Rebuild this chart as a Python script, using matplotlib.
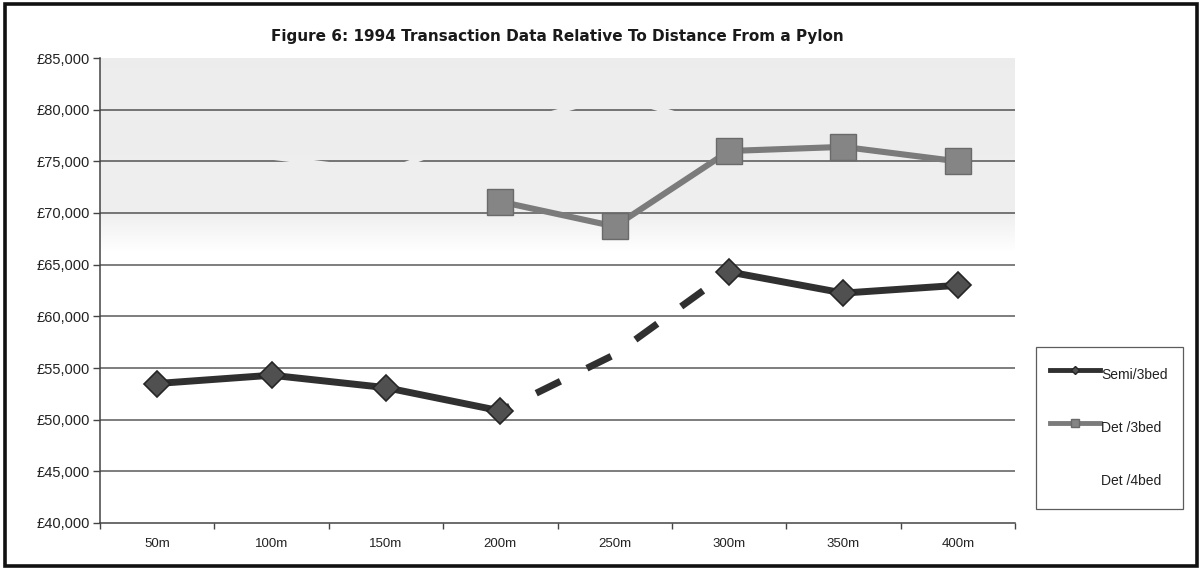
import numpy as np
import matplotlib
matplotlib.use("Agg")
import matplotlib.pyplot as plt
from matplotlib.lines import Line2D
from matplotlib.patches import Rectangle

plt.rcParams['font.family'] = ['Liberation Sans', 'DejaVu Sans']

# ---- data -------------------------------------------------------------
distances = ['50m', '100m', '150m', '200m', '250m', '300m', '350m', '400m']
semi_3bed = [53500, 54300, 53100, 50850, 56300, 64300, 62250, 63000]
det_3bed = [np.nan, np.nan, np.nan, 71100, 68700, 76000, 76400, 75000]
det_4bed = [np.nan, 75400, 74000, 78200, 81400, 78000, 77400, np.nan]
series_names = ['Semi/3bed', 'Det /3bed', 'Det /4bed']
y_ticks = [40000, 45000, 50000, 55000, 60000, 65000, 70000, 75000, 80000, 85000]
y_tick_labels = ['£40,000', '£45,000', '£50,000', '£55,000', '£60,000',
                 '£65,000', '£70,000', '£75,000', '£80,000', '£85,000']
title = 'Figure 6: 1994 Transaction Data Relative To Distance From a Pylon'
# Semi/3bed points joined by a dashed segment (200m -> 250m -> 300m)
dashed_idx = [3, 4, 5]

# ---- figure -------------------------------------------------------------
W, H = 1203, 569
fig = plt.figure(figsize=(W / 100, H / 100), dpi=100)
ax = fig.add_axes([100 / W, 1 - 523 / H, 915 / W, 465 / H])

x = np.arange(len(distances))
ax.set_xlim(-0.5, len(distances) - 0.5)
ax.set_ylim(y_ticks[0], y_ticks[-1])

# gridlines
for v in y_ticks[1:-1]:
    ax.axhline(v, color='#5a5a5a', lw=1.1, zorder=1)

# Det/4bed is drawn in white, so it only shows where it crosses the grid
det4 = np.array(det_4bed, dtype=float)
ax.plot(x, det4, color='white', lw=3.6, zorder=2)

# light grey haze over the upper part of the plot area
t = np.linspace(0, 1, 300)
yy = 85000 - t * (85000 - 66000)
alpha = np.interp(yy, [66000, 70000, 85000], [0.0, 0.068, 0.075])
haze = np.zeros((len(t), 1, 4))
haze[:, 0, 3] = alpha
ax.imshow(haze, extent=[-0.5, len(distances) - 0.5, 66000, 85000],
          aspect='auto', zorder=2.5, interpolation='bilinear', origin='upper')

semi = np.array(semi_3bed, dtype=float)
semi_solid = semi.copy()
semi_solid[4] = np.nan
semi_dash = np.full_like(semi, np.nan)
semi_dash[dashed_idx] = semi[dashed_idx]
semi_marks = semi.copy()
semi_marks[4] = np.nan

semi_col = '#303030'
det_col = '#7b7b7b'

ax.plot(x, semi_solid, color=semi_col, lw=5.0, solid_capstyle='butt', zorder=3)
ax.plot(x, semi_dash, color=semi_col, lw=5.0, ls=(2.38, (3.89, 4.25)),
        dash_capstyle='butt', zorder=3)
ax.plot(x, semi_marks, ls='none', marker='D', ms=13, mfc='#505050',
        mec='#262626', mew=1.2, zorder=4)

det3 = np.array(det_3bed, dtype=float)
ax.plot(x, det3, color=det_col, lw=4.4, marker='s', ms=18.5, mfc='#858585',
        mec='#6a6a6a', mew=1.0, zorder=5)

# axes styling
for s in ('top', 'right'):
    ax.spines[s].set_visible(False)
for s in ('left', 'bottom'):
    ax.spines[s].set_color('#444444')
    ax.spines[s].set_linewidth(1.1)

ax.set_yticks(y_ticks)
ax.set_yticklabels(y_tick_labels)
ax.set_xticks(x)
ax.set_xticklabels(distances)
ax.set_xticks(np.arange(-0.5, len(distances) + 0.5, 1.0), minor=True)
ax.tick_params(axis='x', which='major', length=0, pad=11, labelsize=9.5,
               labelcolor='#222222')
ax.tick_params(axis='x', which='minor', length=4, color='#444444', width=1)
ax.tick_params(axis='y', length=5, color='#444444', width=1, pad=2,
               labelsize=10.5, labelcolor='#222222')

fig.text(557 / W, 1 - 36 / H, title, ha='center', va='center',
         fontsize=11, fontweight='bold', color='#1a1a1a',
         family=['DejaVu Sans'])

# legend
handles = [
    Line2D([], [], color=semi_col, lw=3.5, marker='D', ms=4, mfc='#505050', mec='#262626'),
    Line2D([], [], color=det_col, lw=3.5, marker='s', ms=6, mfc='#858585', mec='#6a6a6a'),
    Line2D([], [], color='white', lw=3.5),
]
leg = fig.legend(handles, series_names, loc='upper left',
                 bbox_to_anchor=(1036 / W, 1 - 512 / H, 147 / W, 165 / H),
                 mode='expand', fontsize=10, frameon=True, fancybox=False,
                 handlelength=3.6, handleheight=2.7, handletextpad=0.1,
                 labelspacing=1.82, borderpad=1.0, borderaxespad=0)
leg.get_frame().set_edgecolor('#333333')
leg.get_frame().set_linewidth(0.9)
for txt in leg.get_texts():
    txt.set_color('#222222')

# outer frame
fig.patches.append(Rectangle((5 / W, 3 / H), 1192 / W, 562 / H,
                             transform=fig.transFigure, fill=False,
                             edgecolor='#111111', lw=2.6))

fig.savefig('out.png', dpi=100)
